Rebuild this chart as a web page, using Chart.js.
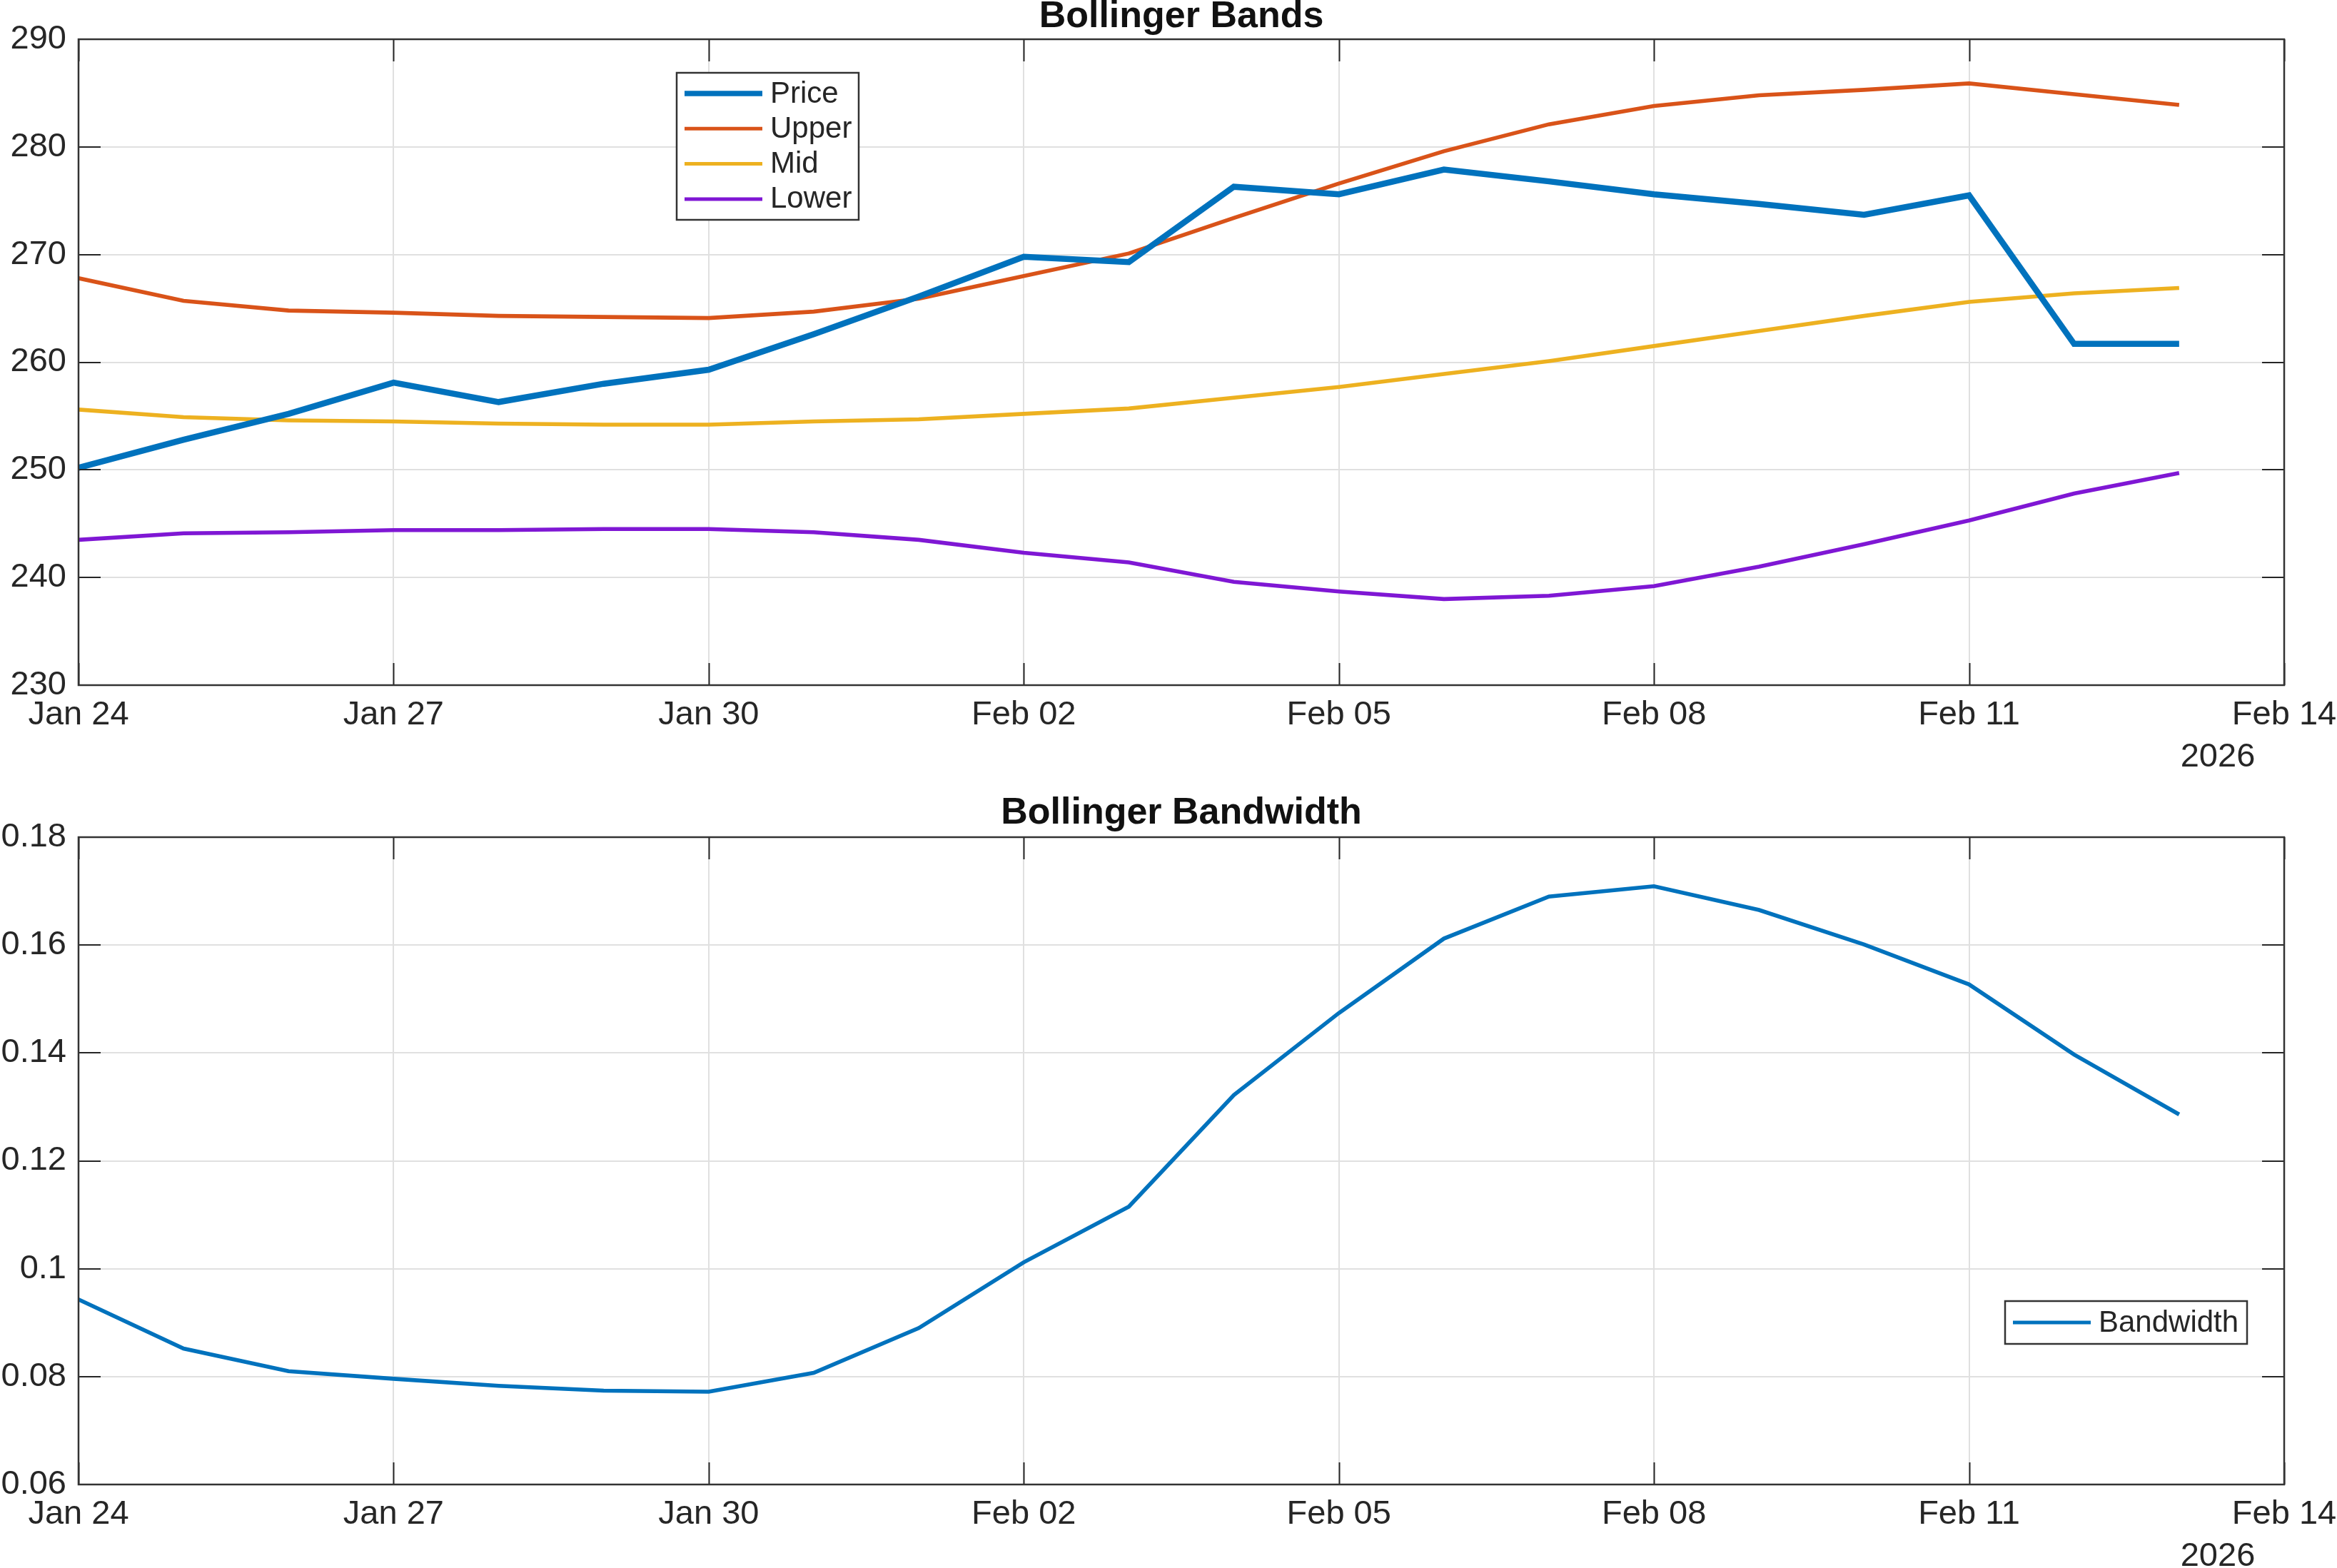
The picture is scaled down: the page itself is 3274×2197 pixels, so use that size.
<!DOCTYPE html>
<html>
<head>
<meta charset="utf-8">
<script src="https://cdn.jsdelivr.net/npm/chart.js@4.4.1/dist/chart.umd.min.js"></script>
<style>
html,body{margin:0;padding:0;background:#fff;width:3274px;height:2197px;overflow:hidden}
canvas{position:absolute;left:0;display:block}
#c1{top:0}
#c2{top:1100px}
</style>
</head>
<body>
<canvas id="c1" width="3274" height="1100"></canvas>
<canvas id="c2" width="3274" height="1097"></canvas>
<script>
// ---------- data ----------
const dates = ['Jan 24','Jan 25','Jan 26','Jan 27','Jan 28','Jan 29','Jan 30','Jan 31',
               'Feb 01','Feb 02','Feb 03','Feb 04','Feb 05','Feb 06','Feb 07','Feb 08',
               'Feb 09','Feb 10','Feb 11','Feb 12','Feb 13'];
const dayOffsets = [0,1,2,3,4,5,6,7,8,9,10,11,12,13,14,15,16,17,18,19,20];

const price = [250.2,252.8,255.2,258.1,256.3,258.0,259.3,262.6,266.1,269.8,269.3,
               276.3,275.6,277.9,276.8,275.6,274.7,273.7,275.5,261.7,261.7];
const upper = [267.8,265.7,264.8,264.6,264.3,264.2,264.1,264.7,265.9,268.0,270.1,
               273.4,276.6,279.6,282.1,283.8,284.8,285.3,285.9,284.9,283.9];
const mid   = [255.6,254.9,254.6,254.5,254.3,254.2,254.2,254.5,254.7,255.2,255.7,
               256.7,257.7,258.9,260.1,261.5,262.9,264.3,265.6,266.4,266.9];
const lower = [243.5,244.1,244.2,244.4,244.4,244.5,244.5,244.2,243.5,242.3,241.4,
               239.6,238.7,238.0,238.3,239.2,241.0,243.1,245.3,247.8,249.7];
const bandwidth = [0.0943,0.0852,0.0810,0.0796,0.0783,0.0774,0.0772,0.0807,0.0890,0.1012,0.1115,
                   0.1322,0.1474,0.1612,0.1690,0.1709,0.1665,0.1601,0.1527,0.1397,0.1286];

const xTickValues = [0,3,6,9,12,15,18,21];
const xTickLabels = ['Jan 24','Jan 27','Jan 30','Feb 02','Feb 05','Feb 08','Feb 11','Feb 14'];
const yearLabel = '2026';
const yTicks1 = [230,240,250,260,270,280,290];
const yTickLabels1 = ['230','240','250','260','270','280','290'];
const yTicks2 = [0.06,0.08,0.10,0.12,0.14,0.16,0.18];
const yTickLabels2 = ['0.06','0.08','0.1','0.12','0.14','0.16','0.18'];

// ---------- styling ----------
const FONT = '"Liberation Sans", Arial, Helvetica, sans-serif';
const TXT = '#262626';
const COLORS = {price:'#0072BD', upper:'#D95319', mid:'#EDB120', lower:'#7F17D4', bw:'#0072BD'};

function pts(arr){ return dayOffsets.map((d,i)=>({x:d,y:arr[i]})); }

const matlabAxes = {
  id:'matlabAxes',
  afterDraw(chart, args, opts){
    const ctx = chart.ctx, a = chart.chartArea;
    const xs = chart.scales.x, ys = chart.scales.y;
    const TL = 31;
    ctx.save();
    ctx.strokeStyle = '#262626';
    ctx.lineWidth = 2;
    ctx.beginPath();
    xs.ticks.forEach(t=>{
      const p = Math.round(xs.getPixelForValue(t.value))+0.5;
      ctx.moveTo(p,a.bottom); ctx.lineTo(p,a.bottom-TL);
      ctx.moveTo(p,a.top); ctx.lineTo(p,a.top+TL);
    });
    ys.ticks.forEach(t=>{
      const p = Math.round(ys.getPixelForValue(t.value));
      ctx.moveTo(a.left,p); ctx.lineTo(a.left+TL,p);
      ctx.moveTo(a.right,p); ctx.lineTo(a.right-TL,p);
    });
    ctx.stroke();
    ctx.lineWidth = 2.5;
    ctx.strokeStyle = '#333333';
    ctx.strokeRect(a.left, a.top, a.right-a.left, a.bottom-a.top);

    // year label under last x tick
    ctx.fillStyle = TXT;
    ctx.font = '47px ' + FONT;
    ctx.textAlign = 'center';
    ctx.textBaseline = 'middle';
    ctx.fillText(opts.year, a.right - 93, a.bottom + 101);

    // legend
    const L = opts.legend;
    ctx.fillStyle = '#ffffff';
    ctx.fillRect(L.x, L.y, L.w, L.h);
    ctx.lineWidth = 2.5;
    ctx.strokeStyle = '#333333';
    ctx.strokeRect(L.x, L.y, L.w, L.h);
    ctx.font = '42px ' + FONT;
    ctx.textAlign = 'left';
    ctx.textBaseline = 'middle';
    chart.data.datasets.forEach((ds,i)=>{
      const cy = L.y + L.first + i*L.step;
      ctx.strokeStyle = ds.borderColor;
      ctx.lineWidth = ds.borderWidth * 0.9;
      ctx.beginPath();
      ctx.moveTo(L.x + 11, cy); ctx.lineTo(L.x + 120, cy);
      ctx.stroke();
      ctx.fillStyle = TXT;
      ctx.fillText(ds.label, L.x + 131, cy + 1);
    });
    ctx.restore();
  }
};

function makeOptions(cfg){
  return {
    responsive:false,
    animation:false,
    devicePixelRatio:1,
    layout:{autoPadding:false, padding:{left:0,right:74,top:0,bottom:0}},
    plugins:{
      legend:{display:false},
      tooltip:{enabled:false},
      title:{display:true, fullSize:false, text:cfg.title, color:'#111111',
             font:{family:FONT, size:52, weight:'bold', lineHeight:0.9},
             padding:cfg.titlePad},
      matlabAxes:{year:yearLabel, legend:cfg.legend}
    },
    elements:{point:{radius:0}, line:{tension:0}},
    scales:{
      x:{type:'linear', min:0, max:21,
         afterBuildTicks(s){ s.ticks = xTickValues.map(v=>({value:v})); },
         afterFit(s){ s.height = cfg.xh; s.paddingLeft = 0; s.paddingRight = 0; },
         ticks:{callback:(v,i)=>xTickLabels[i], color:TXT, padding:14, maxRotation:0, autoSkip:false,
                font:{family:FONT, size:47}},
         grid:{color:'#e0e0e0', lineWidth:2, drawTicks:false},
         border:{display:false}},
      y:{type:'linear', min:cfg.ymin, max:cfg.ymax,
         afterBuildTicks(s){ s.ticks = cfg.yTicks.map(v=>({value:v})); },
         afterFit(s){ s.width = 110; s.paddingTop = 0; s.paddingBottom = 0; },
         ticks:{callback:(v,i)=>cfg.yLabels[i], color:TXT, padding:17, autoSkip:false,
                font:{family:FONT, size:47}},
         grid:{color:'#e0e0e0', lineWidth:2, drawTicks:false},
         border:{display:false}}
    }
  };
}

new Chart(document.getElementById('c1'), {
  type:'line',
  data:{datasets:[
    {label:'Price', data:pts(price), borderColor:COLORS.price, borderWidth:8.5},
    {label:'Upper', data:pts(upper), borderColor:COLORS.upper, borderWidth:5.6},
    {label:'Mid',   data:pts(mid),   borderColor:COLORS.mid,   borderWidth:5.6},
    {label:'Lower', data:pts(lower), borderColor:COLORS.lower, borderWidth:5.6}
  ]},
  options:makeOptions({title:'Bollinger Bands', titlePad:{top:0,bottom:8.2}, xh:140,
    ymin:230, ymax:290, yTicks:yTicks1, yLabels:yTickLabels1,
    legend:{x:948, y:102, w:255, h:206, first:29, step:49.3}}),
  plugins:[matlabAxes]
});

new Chart(document.getElementById('c2'), {
  type:'line',
  data:{datasets:[
    {label:'Bandwidth', data:pts(bandwidth), borderColor:COLORS.bw, borderWidth:5.6}
  ]},
  options:makeOptions({title:'Bollinger Bandwidth', titlePad:{top:16.6,bottom:9.6}, xh:117,
    ymin:0.06, ymax:0.18, yTicks:yTicks2, yLabels:yTickLabels2,
    legend:{x:2809, y:723, w:339, h:60, first:30, step:0}}),
  plugins:[matlabAxes]
});
</script>
</body>
</html>
